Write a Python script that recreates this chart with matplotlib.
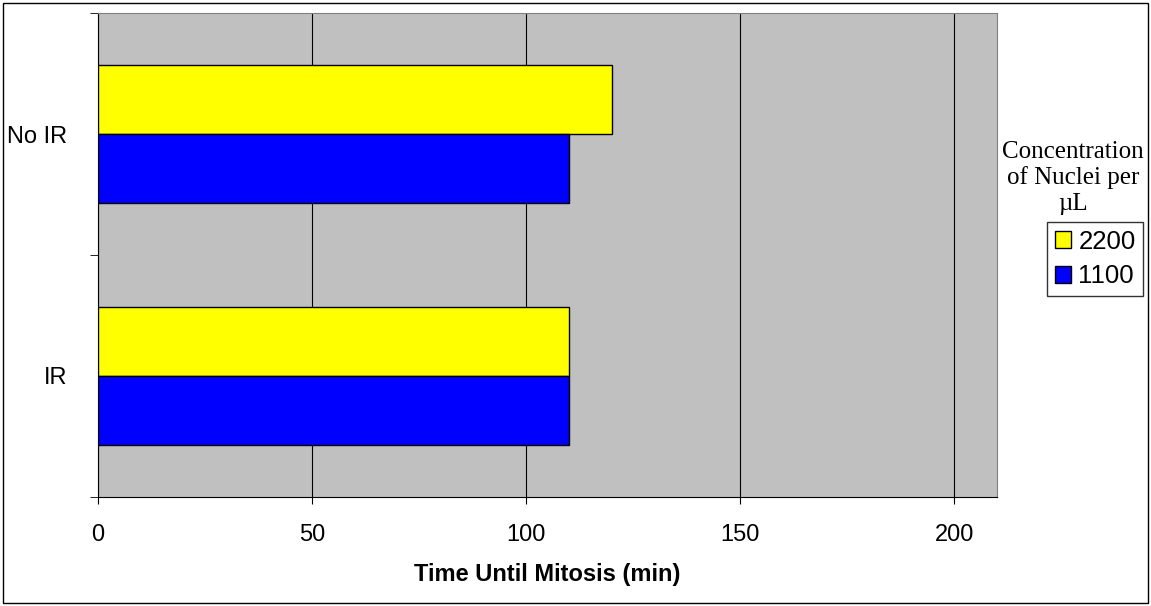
import matplotlib
matplotlib.use("Agg")
import matplotlib.pyplot as plt
from matplotlib.patches import Patch, Rectangle

# data
categories = ["IR", "No IR"]
series_names = ["2200", "1100"]
values_2200 = [110, 120]
values_1100 = [110, 110]
colors = ["#ffff00", "#0000ff"]

plt.rcParams['font.family'] = ['Liberation Sans', 'DejaVu Sans']

fig = plt.figure(figsize=(11.51, 6.06), dpi=100)
ax = fig.add_axes([0.0851, 0.1799, 0.7811, 0.7986])
ax.set_facecolor("#c0c0c0")

h = 0.285
pos = range(len(categories))
ax.barh([p + h / 2 for p in pos], values_2200, height=h, color=colors[0],
        edgecolor="black", linewidth=1, zorder=3)
ax.barh([p - h / 2 for p in pos], values_1100, height=h, color=colors[1],
        edgecolor="black", linewidth=1, zorder=3)

ax.set_xlim(0, 210)
ax.set_ylim(-0.5, 1.5)
ax.set_xticks([0, 50, 100, 150, 200])
ax.set_yticks(list(pos))
ax.set_yticklabels(categories, fontsize=17)
ax.set_yticks([-0.5, 0.5, 1.5], minor=True)
ax.tick_params(axis="y", which="major", length=0, pad=22)
ax.tick_params(axis="y", which="minor", length=6, direction="out")
ax.tick_params(axis="x", length=5, direction="out", labelsize=17, pad=14.5)
ax.grid(axis="x", color="black", linewidth=0.8, zorder=1)

for s in ["top", "right"]:
    ax.spines[s].set_color("#808080")
for s in ["left", "bottom"]:
    ax.spines[s].set_color("black")

ax.set_xlabel("Time Until Mitosis (min)", fontsize=17, fontweight="bold", labelpad=12)

handles = [Patch(facecolor=c, edgecolor="black", label=n) for c, n in zip(colors, series_names)]
fig.text(0.932, 0.768, "Concentration\nof Nuclei per\n\u00b5L", ha="center", va="top",
         fontsize=18, family=["Liberation Serif", "DejaVu Serif"], linespacing=1.2)
leg = fig.legend(handles=handles, loc="upper left", bbox_to_anchor=(0.9096, 0.6337),
                 fontsize=18.5, frameon=True, fancybox=False, edgecolor="black",
                 handlelength=0.62, handleheight=0.62, handletextpad=0.3,
                 borderpad=0.3, labelspacing=0.42, borderaxespad=0)
leg.get_frame().set_linewidth(1)

fig.patches.append(Rectangle((0.003, 0.005), 0.994, 0.99, transform=fig.transFigure,
                             fill=False, edgecolor="black", linewidth=1))

fig.savefig("out.png", dpi=100)
